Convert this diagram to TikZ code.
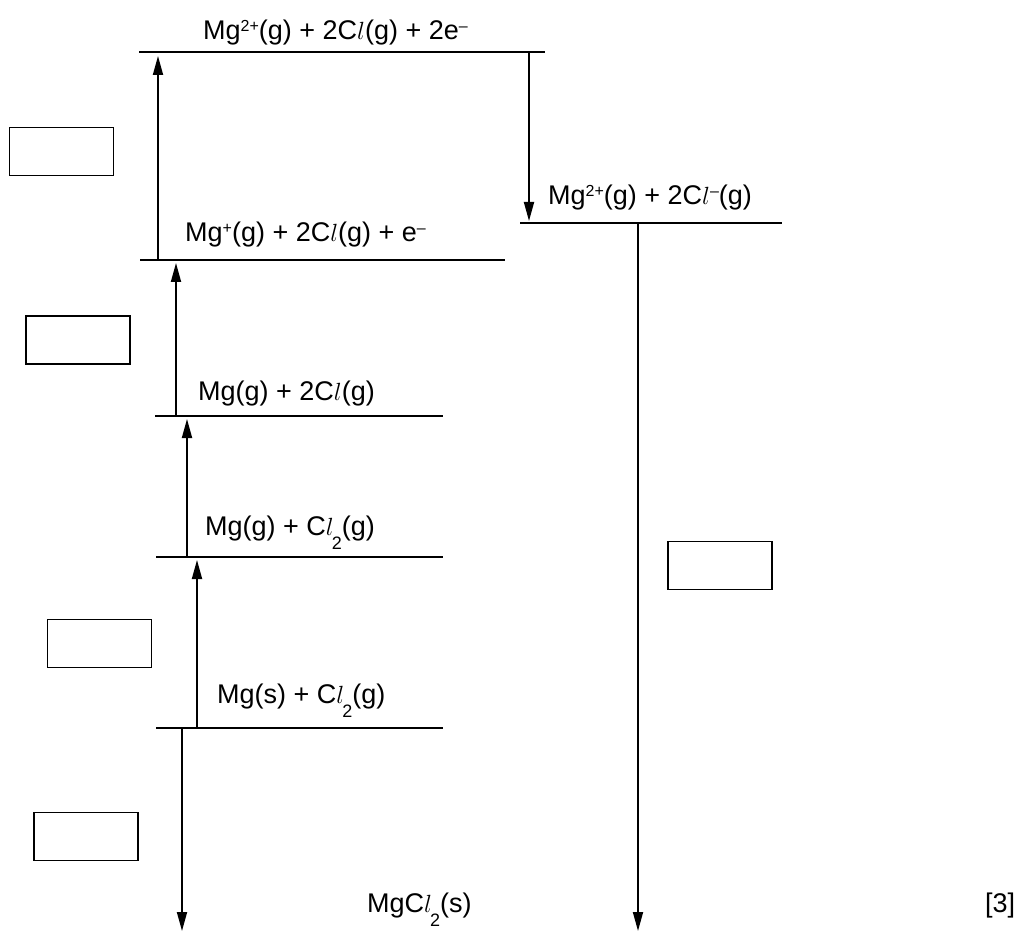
\documentclass[tikz,border=0pt]{standalone}
\usepackage{fontspec}
\setmainfont{Liberation Sans}
\usetikzlibrary{arrows.meta}
\newcommand{\chl}{\ensuremath{l}}
\newcommand{\sups}[1]{\raisebox{8pt}{\fontsize{16}{16}\selectfont #1}}
\newcommand{\subs}[1]{\kern-2pt\raisebox{-0.55em}{\fontsize{18}{18}\selectfont #1}}
\begin{document}
\begin{tikzpicture}[x=1pt,y=-1pt,
  level/.style={line width=2pt},
  arr/.style={line width=1.8pt,-{Triangle[length=19pt,width=10pt]}},
  ansbox/.style={draw,line width=1.8pt,minimum width=104pt,minimum height=48pt,inner sep=0pt},
  lab/.style={anchor=base west,inner sep=0pt,font=\fontsize{27}{30}\selectfont}]
\useasboundingbox (0,0) rectangle (1018,933);
% levels
\coordinate (A1) at (139,52);  \coordinate (A2) at (545,52);
\coordinate (B1) at (140,260); \coordinate (B2) at (505,260);
\coordinate (C1) at (520,223); \coordinate (C2) at (782,223);
\coordinate (D1) at (155,416); \coordinate (D2) at (443,416);
\coordinate (E1) at (156,557); \coordinate (E2) at (443,557);
\coordinate (F1) at (156,728); \coordinate (F2) at (443,728);
\draw[level] (A1) -- (A2);
\draw[level] (B1) -- (B2);
\draw[level] (C1) -- (C2);
\draw[level] (D1) -- (D2);
\draw[level] (E1) -- (E2);
\draw[level] (F1) -- (F2);
% labels
\node[lab] (tA) at (203,40) {Mg\sups{2+}(g) + 2C\chl(g) + 2e\sups{–}};
\node[lab] (tB) at (185,242) {Mg\sups{+}(g) + 2C\chl(g) + e\sups{–}};
\node[lab] (tC) at (548,205) {Mg\sups{2+}(g) + 2C\chl\sups{–}(g)};
\node[lab] (tD) at (198,400) {Mg(g) + 2C\chl(g)};
\node[lab] (tE) at (205,535) {Mg(g) + C\chl\subs{2}(g)};
\node[lab] (tF) at (217,703) {Mg(s) + C\chl\subs{2}(g)};
\node[lab] (tG) at (367,912) {MgC\chl\subs{2}(s)};
\node[lab] (tH) at (985,912) {[3]};
% arrows
\coordinate (a1s) at (158,260); \coordinate (a1e) at (158,56);
\coordinate (a2s) at (176,416); \coordinate (a2e) at (176,263);
\coordinate (a3s) at (187,557); \coordinate (a3e) at (187,419);
\coordinate (a4s) at (197,728); \coordinate (a4e) at (197,560);
\coordinate (a5s) at (182,728); \coordinate (a5e) at (182,931);
\coordinate (a6s) at (529,52);  \coordinate (a6e) at (529,221);
\coordinate (a7s) at (638,223); \coordinate (a7e) at (638,931);
\draw[arr] (a1s) -- (a1e);
\draw[arr] (a2s) -- (a2e);
\draw[arr] (a3s) -- (a3e);
\draw[arr] (a4s) -- (a4e);
\draw[arr] (a5s) -- (a5e);
\draw[arr] (a6s) -- (a6e);
\draw[arr] (a7s) -- (a7e);
% answer boxes
\node[ansbox] (b1) at (61.5,151.5) {};
\node[ansbox] (b2) at (78,340) {};
\node[ansbox] (b3) at (99.5,643.5) {};
\node[ansbox] (b4) at (86,836.5) {};
\node[ansbox] (b5) at (720,565.5) {};
\end{tikzpicture}
\end{document}
